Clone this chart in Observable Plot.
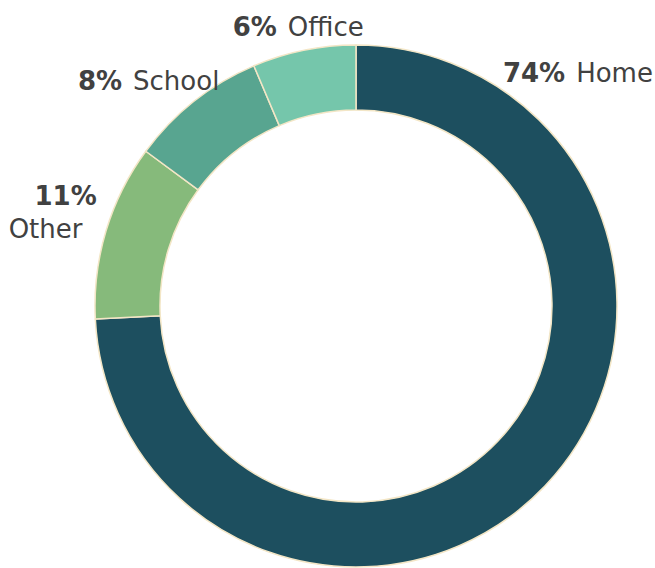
<!DOCTYPE html>
<html>
<head>
<meta charset="utf-8">
<script src="https://cdn.jsdelivr.net/npm/d3@7"></script>
<script src="https://cdn.jsdelivr.net/npm/@observablehq/plot@0.6"></script>
<style>
  html, body { margin: 0; padding: 0; background: #ffffff; }
  #chart svg { display: block; }
</style>
</head>
<body>
<div id="chart"></div>
<script>
// ---- data ----
const categories = ["Home", "Other", "School", "Office"];
const shares = [74.2, 10.9, 8.5, 6.4];
const pctLabels = ["74%", "11%", "8%", "6%"];
const colors = ["#1d4f5f", "#86ba7b", "#58a590", "#75c6ab"];

// ---- layout / style (not data) ----
const W = 655, H = 568;
const CX = 356, CY = 306;          // donut centre (px)
const R_OUT = 261, R_IN = 196;     // radii (px)
const labelPlacement = {            // polar placement of each label (deg clockwise from top, px)
  Home:   {angle: 42.6,  r: 316.4, stacked: false},
  Office: {angle: 345.1, r: 288.6, stacked: false},
  School: {angle: 314.5, r: 321.0, stacked: false},
  Other:  {angle: 287.3, r: 315.2, stacked: true}
};

const table = categories.map((c, i) => ({category: c, share: shares[i], pct: pctLabels[i], color: colors[i]}));
const arcs = d3.pie().sort(null).value(d => d.share)(table);
const colorOf = d3.scaleOrdinal(categories, colors);

const labels = table.map(d => {
  const p = labelPlacement[d.category];
  const a = p.angle * Math.PI / 180;
  return {...d, x: p.r * Math.sin(a), y: p.r * Math.cos(a), stacked: p.stacked};
});
const inline = labels.filter(d => !d.stacked);
const stacked = labels.filter(d => d.stacked);

function donut(index, {x, y}) {
  const cx = x(0), cy = y(0);
  const k = Math.abs(x(1) - x(0));
  const arc = d3.arc().innerRadius(R_IN * k).outerRadius(R_OUT * k);
  const g = d3.create("svg:g").attr("transform", `translate(${cx},${cy})`);
  g.selectAll("path").data(arcs).join("path")
    .attr("d", arc)
    .attr("fill", d => colorOf(d.data.category))
    .attr("stroke", "#f3e6c6")
    .attr("stroke-width", 1.5)
    .attr("stroke-linejoin", "round");
  return g.node();
}

const font = {fontSize: 26, fill: "#414141"};

const chart = Plot.plot({
  width: W,
  height: H,
  margin: 0,
  style: {fontFamily: "DejaVu Sans", background: "#ffffff", overflow: "visible"},
  x: {domain: [-CX, W - CX], axis: null},
  y: {domain: [-(H - CY), CY], axis: null},
  marks: [
    donut,
    Plot.text(inline, {x: "x", y: "y", text: "pct", textAnchor: "end", dx: -5.5, fontWeight: "bold", ...font}),
    Plot.text(inline, {x: "x", y: "y", text: "category", textAnchor: "start", dx: 5.5, ...font}),
    Plot.text(stacked, {x: "x", y: "y", text: "pct", textAnchor: "middle", dx: 10, dy: -16.5, fontWeight: "bold", ...font}),
    Plot.text(stacked, {x: "x", y: "y", text: "category", textAnchor: "middle", dx: -10, dy: 16.5, ...font})
  ]
});
document.getElementById("chart").appendChild(chart);
</script>
</body>
</html>
